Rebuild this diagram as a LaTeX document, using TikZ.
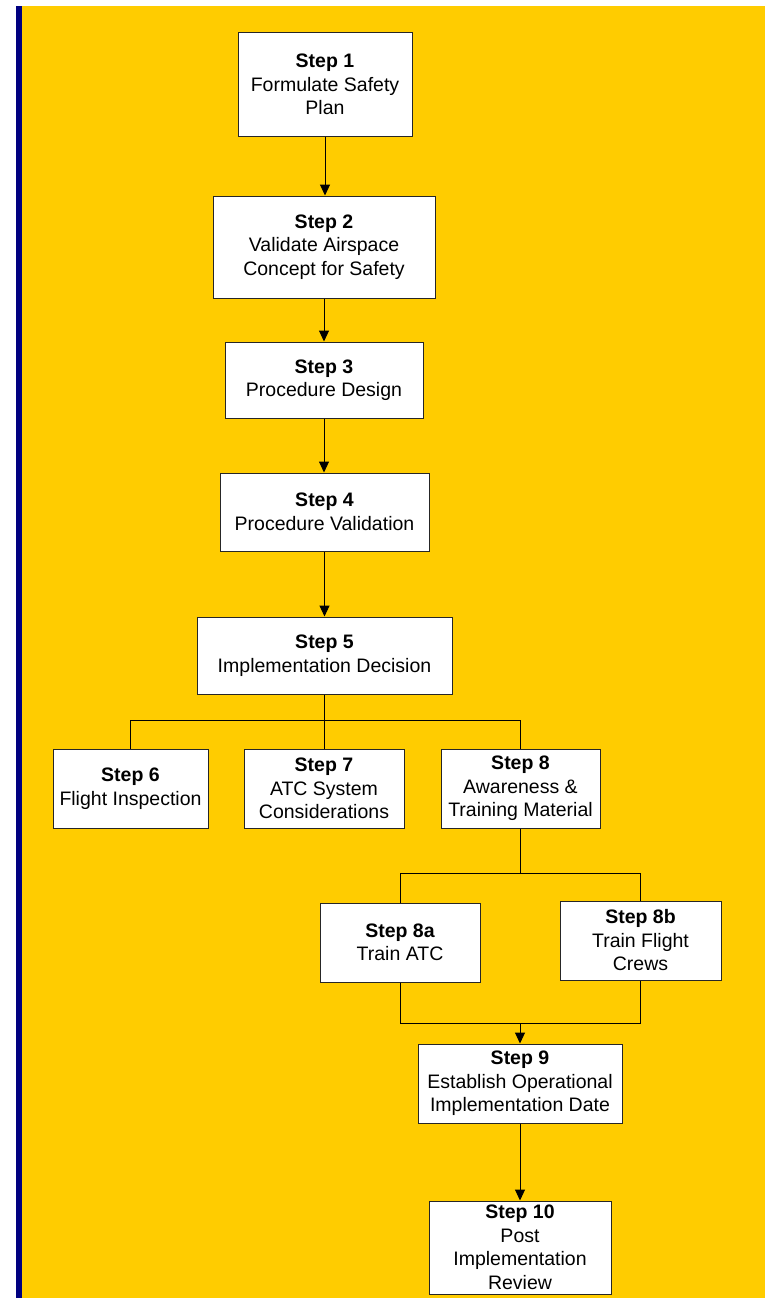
\documentclass[tikz,border=0pt]{standalone}
\usepackage{fontspec}
\setmainfont{Liberation Sans}
\usetikzlibrary{arrows.meta}
\definecolor{faaYellow}{RGB}{255,204,0}
\definecolor{faaBlue}{RGB}{0,0,128}
\tikzset{
  stepbox/.style={draw=black!85, line width=1pt, fill=white, align=center,
    inner sep=0pt, font=\fontsize{19.5}{23.5}\selectfont},
  link/.style={line width=1pt, draw=black},
  flow/.style={link, -{Triangle[width=10pt,length=11pt]}}
}
\begin{document}
\begin{tikzpicture}[x=1pt,y=-1pt]
			%%%%% START %%%%%
			
			\useasboundingbox (0,0) rectangle (765,1298);
			\fill[white] (0,0) rectangle (765,1298);
			\fill[faaYellow] (22,6) rectangle (765,1298);
			\fill[faaBlue] (16,6) rectangle (22,1298);
			
			\node[stepbox, minimum width=174pt, minimum height=103pt] (s1) at (325,84.5) {\textbf{Step 1}\\Formulate Safety\\Plan};
			\node[stepbox, minimum width=222pt, minimum height=102pt] (s2) at (324,247) {\textbf{Step 2}\\Validate Airspace\\Concept for Safety};
			\node[stepbox, minimum width=198pt, minimum height=76pt] (s3) at (324,380) {\textbf{Step 3}\\Procedure Design};
			\node[stepbox, minimum width=209pt, minimum height=78pt] (s4) at (324.5,512) {\textbf{Step 4}\\Procedure Validation};
			\node[stepbox, minimum width=255pt, minimum height=77pt] (s5) at (324.5,655.5) {\textbf{Step 5}\\Implementation Decision};
			
			\node[stepbox, minimum width=155pt, minimum height=79pt] (s6) at (130.5,788.5) {\textbf{Step 6}\\Flight Inspection};
			\node[stepbox, minimum width=160pt, minimum height=79pt] (s7) at (324,788.5) {\textbf{Step 7}\\ATC System\\Considerations};
			\node[stepbox, minimum width=159pt, minimum height=79pt] (s8) at (520.5,788.5) {\textbf{Step 8}\\Awareness \&\\Training Material};
			
			\node[stepbox, minimum width=160pt, minimum height=79pt] (s8a) at (400,942.5) {\textbf{Step 8a}\\Train ATC};
			\node[stepbox, minimum width=161pt, minimum height=79pt] (s8b) at (640.5,940.5) {\textbf{Step 8b}\\Train Flight\\Crews};
			
			\node[stepbox, minimum width=204pt, minimum height=79pt] (s9) at (520,1083.5) {\textbf{Step 9}\\Establish Operational\\Implementation Date};
			\node[stepbox, minimum width=182pt, minimum height=93pt] (s10) at (520,1247.5) {\textbf{Step 10}\\Post\\Implementation\\Review};
			
			\coordinate (bus5) at (0,720);
			\coordinate (bus8) at (0,873);
			\coordinate (bus9) at (0,1023);
			
			\draw[flow] (s1.south) -- (s1.south |- s2.north);
			\draw[flow] (s2.south) -- (s2.south |- s3.north);
			\draw[flow] (s3.south) -- (s3.south |- s4.north);
			\draw[flow] (s4.south) -- (s4.south |- s5.north);
			
			\draw[link] (s5.south) -- (s5.south |- bus5) -| (s6.north);
			\draw[link] (s5.south |- bus5) -| (s8.north);
			\draw[link] (s5.south |- bus5) -- (s5.south |- s7.north);
			
			\draw[link] (s8.south) -- (s8.south |- bus8) -| (s8a.north);
			\draw[link] (s8.south |- bus8) -| (s8b.north);
			
			\draw[link] (s8a.south) |- (s8b.south |- bus9) -- (s8b.south);
			\draw[flow] (s9.north |- bus9) -- (s9.north);
			\draw[flow] (s9.south) -- (s10.north);
			
			%%%%% END %%%%%
\end{tikzpicture}
\end{document}
